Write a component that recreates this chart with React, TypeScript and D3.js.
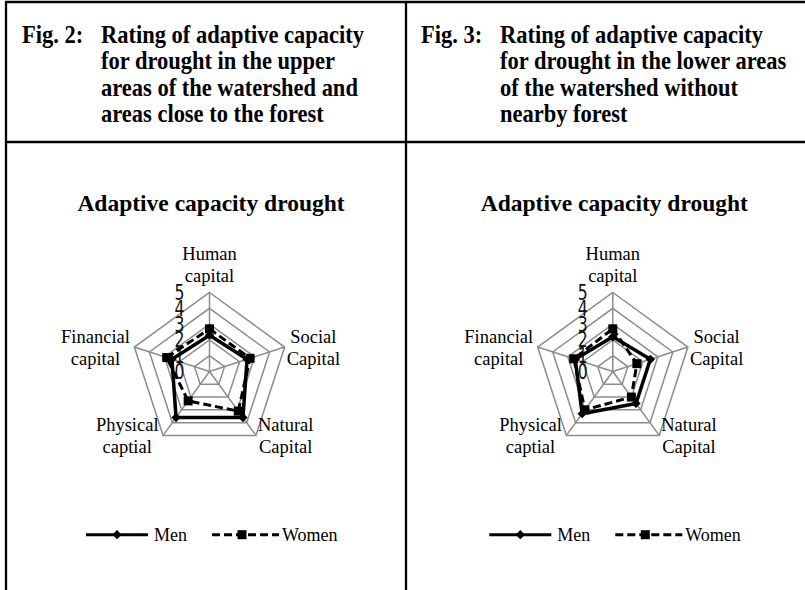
import React, { useEffect, useRef } from 'react';
import * as d3 from 'd3';

// axis order clockwise from top
const axisLabels: string[][] = [
  ['Human', 'capital'],
  ['Social', 'Capital'],
  ['Natural', 'Capital'],
  ['Physical', 'captial'],
  ['Financial', 'capital'],
];
const ticks = [0, 1, 2, 3, 4, 5];

// Fig. 2 upper areas / near forest
const upperMen = [2.3, 2.5, 3.6, 3.6, 2.5];
const upperWomen = [2.7, 2.7, 3.1, 2.3, 2.85];
// Fig. 3 lower areas / no forest
const lowerMen = [2.2, 2.5, 2.5, 3.3, 2.5];
const lowerWomen = [2.7, 1.6, 2.0, 3.0, 2.6];

const seriesNames = ['Men', 'Women'];

const figCaptions = [
  { tag: 'Fig. 2:', lines: ['Rating of adaptive capacity', 'for drought in the upper', 'areas of the watershed and', 'areas close to the forest'] },
  { tag: 'Fig. 3:', lines: ['Rating of adaptive capacity', 'for drought in the lower areas', 'of the watershed without', 'nearby forest'] },
];
const chartTitle = 'Adaptive capacity drought';

const SERIF = '"Liberation Serif", "Times New Roman", serif';
const SANS = '"DejaVu Sans", sans-serif';

const W = 805;
const H = 590;
const R = 79;

const App: React.FC = () => {
  const svgRef = useRef<SVGSVGElement>(null);

  useEffect(() => {
    if (!svgRef.current) return;
    const svg = d3.select(svgRef.current);
    svg.selectAll('*').remove();

    // table frame
    const frame = svg.append('g').attr('stroke', '#000').attr('stroke-width', 2.3);
    frame.append('line').attr('x1', 5).attr('x2', W).attr('y1', 2).attr('y2', 2);
    frame.append('line').attr('x1', 6).attr('x2', 6).attr('y1', 1).attr('y2', H);
    frame.append('line').attr('x1', 406).attr('x2', 406).attr('y1', 1).attr('y2', H);
    frame.append('line').attr('x1', 5).attr('x2', W).attr('y1', 142).attr('y2', 142);

    // captions
    figCaptions.forEach((cap, i) => {
      const x0 = 22 + i * 399;
      const g = svg.append('g')
        .attr('font-family', SERIF)
        .attr('font-weight', 'bold')
        .attr('font-size', 25)
        .attr('fill', '#000');
      g.append('text')
        .attr('transform', `translate(${x0},43) scale(0.9,1)`)
        .text(cap.tag);
      cap.lines.forEach((ln, j) => {
        g.append('text')
          .attr('transform', `translate(${x0 + 79},${43 + j * 26.3}) scale(0.9,1)`)
          .text(ln);
      });
    });

    const rScale = d3.scaleLinear().domain([0, 5]).range([0, R]);
    const angle = (i: number) => (i / axisLabels.length) * Math.PI * 2;

    const panels = [
      { cx: 209.5, cy: 371.5, men: upperMen, women: upperWomen },
      { cx: 612.8, cy: 371.5, men: lowerMen, women: lowerWomen },
    ];

    panels.forEach((p) => {
      const g = svg.append('g').attr('transform', `translate(${p.cx},${p.cy})`);

      g.append('text')
        .attr('x', 1.5)
        .attr('y', -160.5)
        .attr('text-anchor', 'middle')
        .attr('font-family', SERIF)
        .attr('font-weight', 'bold')
        .attr('font-size', 23.5)
        .text(chartTitle);

      // grid rings
      const ringLine = d3.lineRadial<number>()
        .angle((_, i) => angle(i))
        .radius((d) => rScale(d))
        .curve(d3.curveLinearClosed);

      ticks.slice(1).forEach((t) => {
        g.append('path')
          .attr('d', ringLine(axisLabels.map(() => t)) as string)
          .attr('fill', 'none')
          .attr('stroke', '#8c8c8c')
          .attr('stroke-width', 1.5);
      });
      axisLabels.forEach((_, i) => {
        const a = angle(i);
        g.append('line')
          .attr('x1', 0).attr('y1', 0)
          .attr('x2', Math.sin(a) * R).attr('y2', -Math.cos(a) * R)
          .attr('stroke', '#8c8c8c')
          .attr('stroke-width', 1.5);
      });

      // tick labels (tall, overlapping glyphs as in the source)
      ticks.forEach((t) => {
        g.append('text')
          .attr('transform', `translate(-25,${-rScale(t)}) scale(0.95,1.25)`)
          .attr('dy', '0.36em')
          .attr('text-anchor', 'end')
          .attr('font-family', SANS)
          .attr('font-size', 16.5)
          .attr('fill', '#111')
          .text(t);
      });

      // axis labels
      axisLabels.forEach((lines, i) => {
        const a = angle(i);
        const vx = Math.sin(a) * R;
        const vy = -Math.cos(a) * R;
        const lg = g.append('g')
          .attr('font-family', SERIF)
          .attr('font-size', 18.5)
          .attr('text-anchor', 'middle')
          .attr('fill', '#000');
        const txts = lines.map((ln) => lg.append('text').text(ln));
        const maxW = d3.max(txts, (t) => (t.node() as SVGTextElement).getComputedTextLength()) || 0;
        let cx = vx;
        let b1 = vy - 32.5;
        if (Math.abs(Math.sin(a)) > 0.1) {
          const s = Math.sign(Math.sin(a));
          const pad = s > 0 ? 2 : 4.5;
          cx = vx + s * (pad + maxW / 2);
          b1 = vy - 4;
        }
        txts.forEach((t, j) => t.attr('x', cx).attr('y', b1 + j * 21.5));
      });

      // series
      const series = [
        { vals: p.men, dash: null, width: 3.5, shape: 'diamond' },
        { vals: p.women, dash: '8,4', width: 3, shape: 'square' },
      ];
      series.forEach((s) => {
        g.append('path')
          .attr('d', ringLine(s.vals) as string)
          .attr('fill', 'none')
          .attr('stroke', '#000')
          .attr('stroke-width', s.width)
          .attr('stroke-dasharray', s.dash)
          .attr('stroke-linejoin', 'round');
      });
      series.forEach((s) => {
        s.vals.forEach((v, i) => {
          const a = angle(i);
          const x = Math.sin(a) * rScale(v);
          const y = -Math.cos(a) * rScale(v);
          if (s.shape === 'square') {
            g.append('rect').attr('x', x - 4.5).attr('y', y - 4.5).attr('width', 9).attr('height', 9).attr('fill', '#000');
          } else {
            g.append('rect').attr('x', -3.3).attr('y', -3.3).attr('width', 6.6).attr('height', 6.6)
              .attr('transform', `translate(${x},${y}) rotate(45)`).attr('fill', '#000');
          }
        });
      });

      // legend
      const leg = g.append('g').attr('transform', 'translate(0,163.2)');
      leg.append('line').attr('x1', -123.5).attr('x2', -61.5).attr('stroke', '#000').attr('stroke-width', 3);
      leg.append('rect').attr('x', -3.3).attr('y', -3.3).attr('width', 6.6).attr('height', 6.6)
        .attr('transform', 'translate(-92.5,0) rotate(45)');
      leg.append('text').attr('x', -55.5).attr('y', 6).attr('font-family', SERIF).attr('font-size', 18).text(seriesNames[0]);
      leg.append('line').attr('x1', 2.5).attr('x2', 69.5).attr('stroke', '#000').attr('stroke-width', 3).attr('stroke-dasharray', '8,4');
      leg.append('rect').attr('x', 28).attr('y', -4.5).attr('width', 9).attr('height', 9);
      leg.append('text').attr('x', 72.5).attr('y', 6).attr('font-family', SERIF).attr('font-size', 18).text(seriesNames[1]);
    });
  }, []);

  return (
    <div style={{ position: 'fixed', left: 0, top: 0, background: '#fff' }}>
      <svg ref={svgRef} width={W} height={H} style={{ display: 'block' }}></svg>
    </div>
  );
};

export default App;
